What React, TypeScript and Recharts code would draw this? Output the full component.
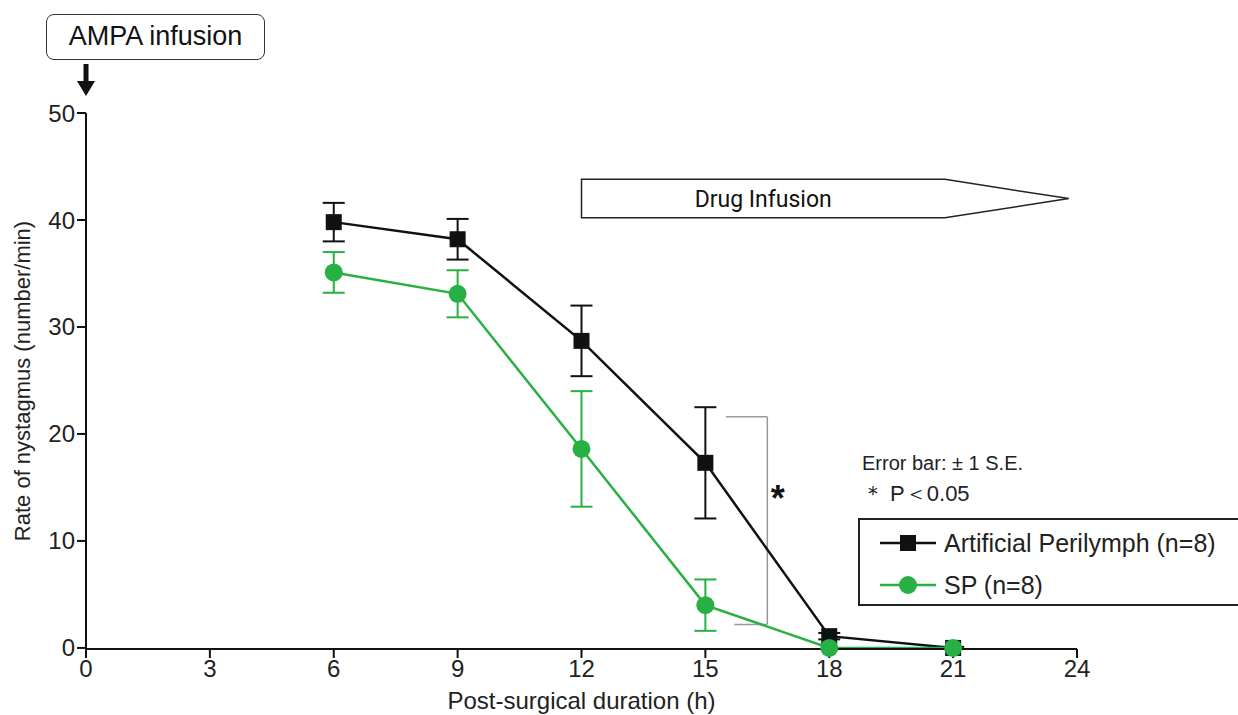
import { LineChart, Line, XAxis, YAxis, ErrorBar, ReferenceLine, ReferenceArea, ReferenceDot } from "recharts";

const hours = [6, 9, 12, 15, 18, 21];
const apMean = [39.8, 38.2, 28.7, 17.3, 1.1, 0];
const apErr = [1.8, 1.9, 3.3, 5.2, 0.3, 0.1];
const spMean = [35.1, 33.1, 18.6, 4.0, 0, 0];
const spErr = [1.9, 2.2, 5.4, 2.4, 0, 0];
const xTicks = [0, 3, 6, 9, 12, 15, 18, 21, 24];
const yTicks = [0, 10, 20, 30, 40, 50];

const data = hours.map((h, i) => ({
  hour: h,
  ap: apMean[i],
  apErr: apErr[i],
  sp: spMean[i],
  spErr: spErr[i],
}));

const FONT = "'Liberation Sans', Arial, sans-serif";
const BLACK = "#111111";
const GREEN = "#27b043";

function SquareDot(props: any) {
  const { cx, cy, index } = props;
  if (cx == null || cy == null) return <g key={`sq-${index}`} />;
  return <rect key={`sq-${index}`} x={cx - 8} y={cy - 8} width={16} height={16} fill={BLACK} />;
}

function CircleDot(props: any) {
  const { cx, cy, index } = props;
  if (cx == null || cy == null) return <g key={`ci-${index}`} />;
  return <circle key={`ci-${index}`} cx={cx} cy={cy} r={9} fill={GREEN} />;
}

function DrugArrow(props: any) {
  const { x, y, width, height } = props;
  // shoulder at 20.8 h, tip at 23.8 h (area spans 12 -> 23.8)
  const shoulder = x + (width * (20.8 - 12)) / (23.8 - 12);
  const mid = y + height / 2;
  const pts = [
    [x, y],
    [shoulder, y],
    [x + width, mid],
    [shoulder, y + height],
    [x, y + height],
  ]
    .map((p) => p.join(","))
    .join(" ");
  return (
    <g>
      <polygon points={pts} fill="#fff" stroke="#222" strokeWidth={1.5} />
      <text
        x={(x + shoulder) / 2}
        y={mid + 8}
        textAnchor="middle"
        fontSize={23}
        fontFamily="'Liberation Sans Narrow', 'Roboto', sans-serif"
        fill="#111"
      >
        Drug Infusion
      </text>
    </g>
  );
}

function StarMark(props: any) {
  const { cx, cy } = props;
  return (
    <text x={cx} y={cy + 18} textAnchor="middle" fontSize={36} fontWeight="bold" fontFamily={FONT} fill="#111">
      *
    </text>
  );
}

function LegendRow({ color, shape, label }: { color: string; shape: "sq" | "ci"; label: string }) {
  return (
    <div style={{ display: "flex", alignItems: "center", height: 42 }}>
      <svg width={62} height={24} style={{ marginLeft: 18, marginRight: 4 }}>
        <line x1={2} y1={12} x2={58} y2={12} stroke={color} strokeWidth={2.5} />
        {shape === "sq" ? (
          <rect x={22} y={4} width={16} height={16} fill={color} />
        ) : (
          <circle cx={30} cy={12} r={9} fill={color} />
        )}
      </svg>
      <span style={{ fontSize: 25, color: "#222" }}>{label}</span>
    </div>
  );
}

export default function App() {
  return (
    <div style={{ position: "absolute", left: 0, top: 0, width: 1238, height: 715, background: "#fff", overflow: "hidden" }}>
      <LineChart width={1238} height={715} data={data} margin={{ top: 113, right: 161, bottom: 0, left: 0 }}>
        <XAxis
          dataKey="hour"
          type="number"
          domain={[0, 24]}
          ticks={xTicks}
          allowDataOverflow
          height={66}
          stroke={BLACK}
          strokeWidth={2}
          tickSize={9}
          tick={{ fontSize: 24, fill: "#222", fontFamily: FONT }}
          label={{
            value: "Post-surgical duration (h)",
            position: "insideBottom",
            offset: 6,
            fontSize: 24,
            fill: "#222",
            fontFamily: FONT,
          }}
        />
        <YAxis
          type="number"
          domain={[0, 50]}
          ticks={yTicks}
          width={86}
          stroke={BLACK}
          strokeWidth={2}
          tickSize={9}
          tickMargin={2}
          tick={{ fontSize: 24, fill: "#222", fontFamily: FONT }}
          label={{
            value: "Rate of nystagmus (number/min)",
            angle: -90,
            position: "center",
            dx: -21,
            fontSize: 22,
            fill: "#222",
            fontFamily: FONT,
          }}
        />
        <ReferenceArea x1={12} x2={23.8} y1={40.2} y2={43.8} shape={<DrugArrow />} ifOverflow="visible" />
        <ReferenceLine segment={[{ x: 15.5, y: 21.6 }, { x: 16.5, y: 21.6 }]} stroke="#999" strokeWidth={1.5} />
        <ReferenceLine segment={[{ x: 16.5, y: 21.6 }, { x: 16.5, y: 2.2 }]} stroke="#999" strokeWidth={1.5} />
        <ReferenceLine segment={[{ x: 15.7, y: 2.2 }, { x: 16.5, y: 2.2 }]} stroke="#999" strokeWidth={1.5} />
        <ReferenceDot x={16.75} y={14.5} r={0} shape={<StarMark />} />
        <Line dataKey="ap" stroke={BLACK} strokeWidth={2.5} dot={SquareDot} activeDot={false} isAnimationActive={false}>
          <ErrorBar dataKey="apErr" direction="y" width={11} stroke={BLACK} strokeWidth={2} />
        </Line>
        <Line dataKey="sp" stroke={GREEN} strokeWidth={2.5} dot={CircleDot} activeDot={false} isAnimationActive={false}>
          <ErrorBar dataKey="spErr" direction="y" width={11} stroke={GREEN} strokeWidth={2} />
        </Line>
      </LineChart>

      <div
        style={{
          position: "absolute",
          left: 46,
          top: 14,
          width: 219,
          height: 46,
          border: "1.5px solid #333",
          borderRadius: 8,
          boxSizing: "border-box",
          fontFamily: FONT,
          fontSize: 27,
          lineHeight: "43px",
          textAlign: "center",
          color: "#111",
        }}
      >
        AMPA infusion
      </div>
      <svg style={{ position: "absolute", left: 74, top: 62 }} width={24} height={36}>
        <line x1={12} y1={2} x2={12} y2={22} stroke="#111" strokeWidth={5} />
        <polygon points="3,19 21,19 12,34" fill="#111" />
      </svg>

      <div style={{ position: "absolute", left: 862, top: 451, fontFamily: FONT, color: "#222" }}>
        <div style={{ fontSize: 20, lineHeight: "24px" }}>Error bar: ± 1 S.E.</div>
        <div style={{ fontSize: 22, lineHeight: "30px", marginTop: 4 }}>＊ P＜0.05</div>
      </div>
      <div
        style={{
          position: "absolute",
          left: 858,
          top: 518,
          width: 392,
          height: 88,
          border: "2px solid #222",
          boxSizing: "border-box",
          paddingTop: 2,
          fontFamily: FONT,
        }}
      >
        <LegendRow color={BLACK} shape="sq" label="Artificial Perilymph (n=8)" />
        <LegendRow color={GREEN} shape="ci" label="SP (n=8)" />
      </div>
    </div>
  );
}
